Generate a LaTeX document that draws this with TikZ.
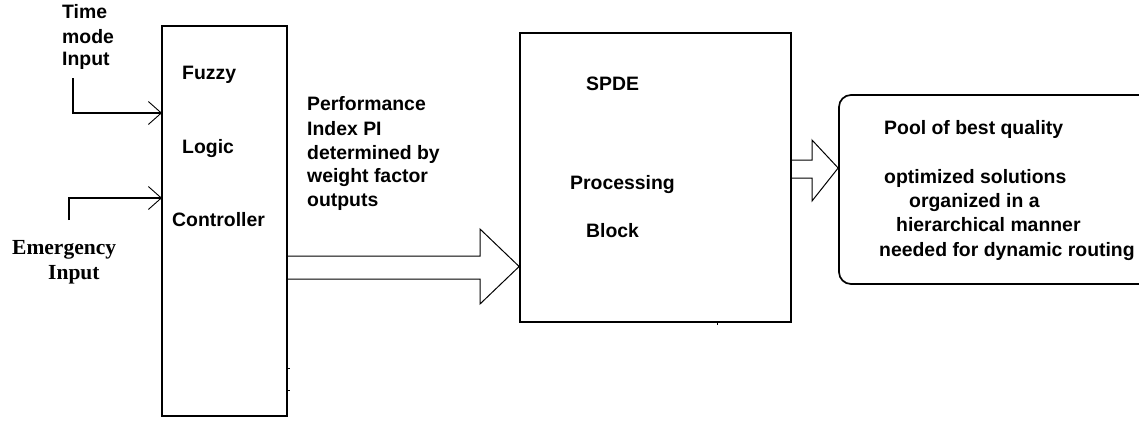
\documentclass[tikz,border=0pt]{standalone}
\usepackage{fontspec}
\setmainfont{Liberation Sans}
\newfontfamily\emfont{Liberation Serif}
\usetikzlibrary{arrows.meta}
\begin{document}
\begin{tikzpicture}[x=1pt,y=-1pt,
  lbl/.style={font=\bfseries\fontsize{19.4}{23}\selectfont, anchor=base west, inner sep=0},
  serlbl/.style={font=\emfont\bfseries\fontsize{21.5}{24}\selectfont, anchor=base west, inner sep=0},
  blk/.style={draw, line width=1.7pt, inner sep=0},
  wire/.style={line width=1.4pt},
  inarrow/.style={-{Straight Barb[length=13pt,width=23pt,line width=0.9pt]}},
  fat/.style={line width=1pt, line join=miter},
  tick/.style={line width=1pt}]
\clip (0,0) rectangle (1139,421);
\fill[white] (0,0) rectangle (1139,421);

% blocks
\node[blk, minimum width=125pt, minimum height=390pt] (fuzzy) at (224.5,221) {};
\node[blk, minimum width=271pt, minimum height=289pt] (spde) at (655.5,177.5) {};
\node[blk, rounded corners=12pt, minimum width=330pt, minimum height=189pt] (pool) at (1004,189.5) {};

% inputs
\node[lbl] (tm1) at (62,18) {Time};
\node[lbl] (tm2) at (62,43) {mode};
\node[lbl] (tm3) at (62,65) {Input};
\node[serlbl] (em1) at (12,254) {Emergency};
\node[serlbl] (em2) at (48,279) {Input};

\coordinate (t0) at (73,78);
\coordinate (tin) at (162,113);
\coordinate (e0) at (69,220);
\coordinate (ein) at (162,198);
\draw[wire,inarrow] (t0) |- (tin);
\draw[wire,inarrow] (e0) |- (ein);

% fuzzy controller labels
\node[lbl] (fz1) at (182,79) {Fuzzy};
\node[lbl] (fz2) at (182,153) {Logic};
\node[lbl] (fz3) at (172,226) {Controller};

% performance index label
\node[lbl] (pi1) at (307,110) {Performance};
\node[lbl] (pi2) at (307,135) {Index PI};
\node[lbl] (pi3) at (307,159) {determined by};
\node[lbl] (pi4) at (307,182) {weight factor};
\node[lbl] (pi5) at (307,206) {outputs};

% block arrow: controller -> SPDE
\draw[fat] (fuzzy.east |- 0,256) -- (480,256) -- (480,229)
  -- (spde.west |- 0,266.5) -- (480,304) -- (480,279) -- (fuzzy.east |- 0,279);

% SPDE labels
\node[lbl] (sp1) at (586,90) {SPDE};
\node[lbl] (sp2) at (570,189) {Processing};
\node[lbl] (sp3) at (586,237) {Block};

% block arrow: SPDE -> pool
\draw[fat] (spde.east |- 0,160) -- (812,160) -- (812,140)
  -- (pool.west |- 0,168) -- (812,201) -- (812,178) -- (spde.east |- 0,178);

% pool labels
\node[lbl] (pl1) at (884,134) {Pool of best quality};
\node[lbl] (pl2) at (884,183) {optimized solutions};
\node[lbl] (pl3) at (909,207) {organized in a};
\node[lbl] (pl4) at (896,231) {hierarchical manner};
\node[lbl] (pl5) at (879,256) {needed for dynamic routing};

% small stray marks on the block edges
\draw[tick] (fuzzy.east |- 0,368) -- ++(2.5,0);
\draw[tick] (fuzzy.east |- 0,390) -- ++(2.5,0);
\draw[tick] (spde.south -| 717,0) -- ++(0,2.5);
\end{tikzpicture}
\end{document}
